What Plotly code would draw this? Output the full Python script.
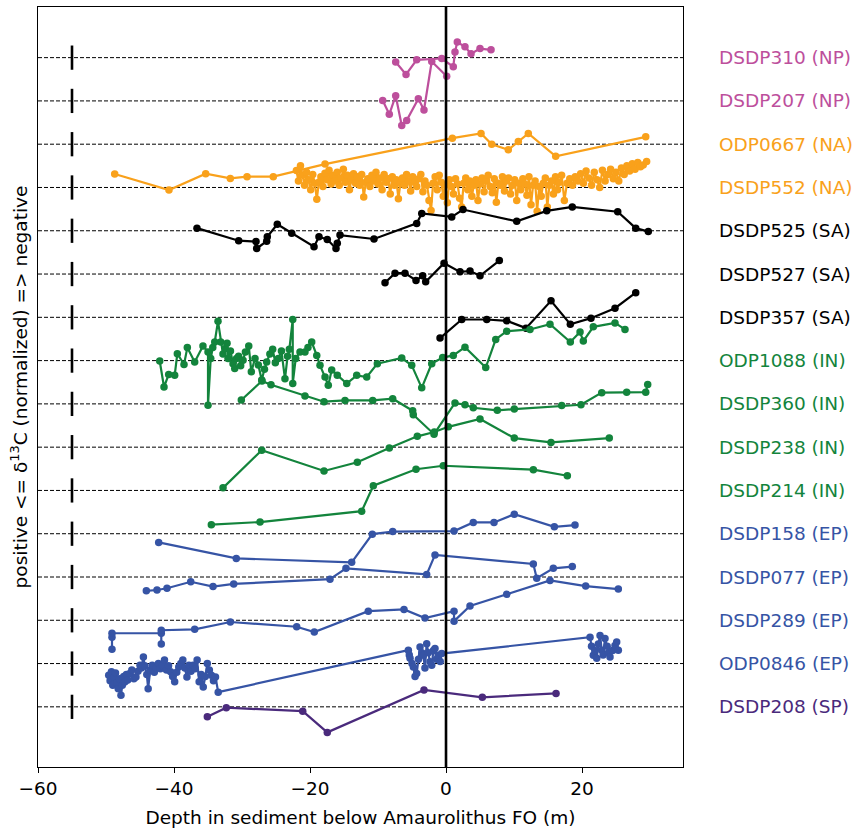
import plotly.graph_objects as go

# ---------------- data ----------------
names = ["DSDP208 (SP)", "ODP0846 (EP)", "DSDP289 (EP)", "DSDP077 (EP)", "DSDP158 (EP)",
         "DSDP214 (IN)", "DSDP238 (IN)", "DSDP360 (IN)", "ODP1088 (IN)", "DSDP357 (SA)",
         "DSDP527 (SA)", "DSDP525 (SA)", "DSDP552 (NA)", "ODP0667 (NA)", "DSDP207 (NP)",
         "DSDP310 (NP)"]

x310 = [-7.4, -5.88, -4.31, -0.63, 1.07, 1.32, 1.66, 2.79, 3.68, 5.0, 6.62]
y310 = [-0.10, -0.39, -0.05, -0.02, -0.21, 0.13, 0.36, 0.25, 0.09, 0.21, 0.18]

x207 = [-9.31, -8.34, -7.4, -6.51, -5.78, -4.07, -3.24, -2.1, 0.1]
y207 = [0.01, -0.31, 0.12, -0.57, -0.45, 0.05, -0.21, 0.91, 0.57]

x667 = [-48.72, -40.74, -35.34, -31.72, -29.26, -25.4, -17.79, 0.93, 5.15, 6.72, 9.16,
        10.63, 12.1, 16.13, 29.37]
y667 = [-0.69, -1.06, -0.68, -0.79, -0.75, -0.75, -0.46, 0.14, 0.25, 0.0, -0.13,
        0.06, 0.25, -0.28, 0.17]

x552 = [-22.0, -21.7, -21.4, -21.1, -20.8, -20.5, -20.2, -19.9, -19.6, -19.3,
        -19.0, -18.7, -18.4, -18.1, -17.8, -17.5, -17.2, -16.9, -16.6, -16.3,
        -16.0, -15.7, -15.4, -15.1, -14.8, -14.5, -14.2, -13.9, -13.6, -13.3,
        -13.0, -12.7, -12.4, -12.1, -11.8, -11.5, -11.2, -10.9, -10.6, -10.3,
        -10.0, -9.7, -9.4, -9.1, -8.8, -8.5, -8.2, -7.9, -7.6, -7.3,
        -7.0, -6.7, -6.4, -6.1, -5.8, -5.5, -5.2, -4.9, -4.6, -4.3,
        -4.0, -3.7, -3.4, -3.1, -2.8, -2.5, -2.2, -1.9, -1.6, -1.3,
        -1.0, -0.7, -0.4, -0.1, 0.2, 0.5, 0.8, 1.1, 1.4, 1.7,
        2.0, 2.3, 2.6, 2.9, 3.2, 3.5, 3.8, 4.1, 4.4, 4.7,
        5.0, 5.3, 5.6, 5.9, 6.2, 6.5, 6.8, 7.1, 7.4, 7.7,
        8.0, 8.3, 8.6, 8.9, 9.2, 9.5, 9.8, 10.1, 10.4, 10.7,
        11.0, 11.3, 11.6, 11.9, 12.2, 12.5, 12.8, 13.1, 13.4, 13.7,
        14.0, 14.3, 14.6, 14.9, 15.2, 15.5, 15.8, 16.1, 16.4, 16.7,
        17.0, 17.4, 17.8, 18.2, 18.6, 19.0, 19.4, 19.8, 20.2, 20.6,
        21.0, 21.4, 21.8, 22.2, 22.6, 23.0, 23.4, 23.8, 24.2, 24.6,
        25.0, 25.4, 25.8, 26.2, 26.6, 27.0, 27.4, 27.8, 28.2, 28.6,
        29.0, 29.5]
y552 = [0.39, 0.15, 0.50, 0.28, 0.05, 0.35, 0.18, -0.05, 0.30, 0.10,
        -0.27, 0.12, 0.25, 0.02, 0.33, 0.18, 0.40, 0.08, 0.28, 0.15,
        0.35, 0.05, 0.22, 0.42, 0.12, 0.28, -0.05, 0.18, 0.32, 0.10,
        0.25, 0.05, 0.30, -0.22, 0.12, 0.20, 0.02, 0.28, 0.15, 0.35,
        0.08, 0.22, -0.05, 0.30, 0.12, 0.20, -0.15, 0.25, 0.05, 0.18,
        -0.26, 0.10, 0.22, 0.05, 0.30, 0.15, -0.08, 0.25, 0.12, 0.02,
        0.20, 0.30, -0.10, 0.15, 0.05, -0.30, -0.53, 0.10, 0.25, -0.05,
        0.28, 0.12, -0.20, 0.05, -0.35, 0.18, 0.02, -0.15, 0.20, 0.08,
        -0.25, -0.45, 0.10, 0.22, -0.05, 0.15, -0.20, 0.05, 0.18, -0.30,
        0.08, 0.22, -0.10, 0.15, 0.28, 0.02, -0.12, 0.20, -0.34, 0.10,
        0.05, 0.25, -0.08, 0.15, 0.22, -0.15, 0.05, 0.18, -0.30, 0.10,
        -0.05, 0.20, 0.08, -0.18, 0.25, -0.40, 0.05, 0.15, -0.55, 0.02,
        -0.20, 0.10, 0.22, -0.45, 0.05, 0.15, -0.15, 0.25, -0.05, 0.12,
        0.28, -0.30, 0.10, 0.20, 0.05, 0.25, 0.15, 0.32, 0.10, 0.38,
        0.22, 0.05, 0.35, 0.18, 0.00, 0.40, 0.15, 0.30, 0.42, 0.20,
        0.35, 0.15, 0.45, 0.30, 0.50, 0.38, 0.55, 0.42, 0.58, 0.48,
        0.52, 0.60]

x525 = [-36.62, -30.49, -27.94, -27.84, -26.37, -26.28, -24.81, -22.69, -19.41, -18.68,
        -17.46, -16.18, -15.99, -15.59, -10.59, -4.31, -3.57, 0.84, 2.5, 10.4,
        14.81, 18.57, 25.25, 27.9, 29.75]
y525 = [0.06, -0.23, -0.25, -0.41, -0.24, -0.14, 0.15, -0.06, -0.37, -0.14,
        -0.2, -0.41, -0.29, -0.1, -0.19, 0.17, 0.4, 0.32, 0.49, 0.22,
        0.46, 0.55, 0.44, 0.06, -0.02]

x527 = [-8.97, -7.5, -6.03, -4.41, -3.43, -2.99, -0.29, 2.06, 3.53, 5.0, 7.84]
y527 = [-0.2, 0.02, 0.02, -0.15, -0.04, -0.18, 0.25, 0.05, 0.07, -0.04, 0.31]

x357 = [-0.88, 2.31, 5.99, 8.93, 11.76, 15.44, 18.28, 21.32, 24.85, 27.9]
y357 = [-0.48, -0.05, -0.05, -0.08, -0.25, 0.38, -0.16, -0.02, 0.21, 0.57]

x1088 = [-42.1, -41.47, -40.78, -39.9, -39.51, -38.53, -38.04, -36.96, -35.74, -35.0,
         -35.0, -34.6, -34.3, -34.01, -33.53, -33.13, -32.8, -32.46, -32.2, -32.06,
         -31.7, -31.32, -31.07, -30.8, -30.5, -30.2, -29.85, -29.5, -29.01, -28.63,
         -28.09, -27.6, -27.1, -26.7, -26.37, -25.9, -25.49, -25.1, -24.66, -24.2,
         -23.68, -23.3, -23.04, -22.54, -22.54, -22.1, -21.47, -20.74, -20.3, -19.75,
         -19.01, -18.53, -17.79, -17.31, -16.81, -15.99, -14.6, -13.13, -11.66, -10.1,
         -6.51, -5.04, -3.57, -2.1, -0.49, 1.07, 2.79, 5.84, 7.31, 8.93,
         12.35, 15.29, 18.28, 19.71, 20.19, 21.66, 24.85, 26.32]
y1088 = [-0.01, -0.61, -0.32, -0.34, 0.16, -0.09, 0.30, -0.03, 0.34, 0.20,
         -1.03, 0.05, 0.30, 0.43, 0.91, 0.43, 0.15, 0.28, 0.40, 0.05,
         0.22, -0.07, -0.18, 0.05, 0.10, -0.12, 0.01, 0.20, 0.34, -0.26,
         0.05, -0.10, -0.45, -0.20, -0.03, 0.15, 0.26, -0.05, 0.05, 0.22,
         -0.42, 0.10, 0.26, 0.95, -0.53, 0.05, 0.20, 0.20, 0.30, 0.43,
         0.12, -0.11, -0.38, -0.57, -0.22, -0.34, -0.53, -0.34, -0.38, -0.07,
         0.06, -0.11, -0.63, -0.07, 0.07, 0.12, 0.31, -0.16, 0.49, 0.68,
         0.72, 0.84, 0.43, 0.66, 0.45, 0.78, 0.87, 0.72]

x360 = [-30.1, -27.06, -25.74, -20.74, -17.94, -14.85, -10.78, -7.84, -4.9, -4.81,
        -1.76, 1.32, 2.79, 4.01, 7.54, 10.04, 17.01, 19.85, 22.9, 26.57,
        29.37, 29.66]
y360 = [0.09, 0.53, 0.44, 0.18, 0.05, 0.08, 0.08, 0.12, -0.16, -0.25,
        -0.70, 0.02, -0.02, -0.09, -0.15, -0.12, -0.04, -0.02, 0.26, 0.27,
        0.27, 0.45]

x238 = [-32.79, -27.1, -17.94, -13.04, -8.34, -4.22, -1.72, 0.34, 5.0, 10.04, 15.44, 24.01]
y238 = [-0.94, -0.07, -0.55, -0.35, -0.02, 0.25, 0.35, 0.47, 0.65, 0.21, 0.11, 0.21]

x214 = [-34.51, -27.35, -12.4, -10.69, -4.41, -0.4, 12.84, 17.84]
y214 = [-0.79, -0.73, -0.48, 0.11, 0.49, 0.57, 0.48, 0.34]

x158 = [-42.25, -30.84, -13.87, -10.84, -7.84, 1.18, 4.01, 7.06, 10.04, 15.93, 18.97]
y158 = [-0.2, -0.57, -0.66, -0.01, 0.05, 0.06, 0.26, 0.26, 0.45, 0.16, 0.2]

x077 = [-44.07, -42.5, -41.03, -37.54, -34.26, -31.22, -17.06, -14.71, -2.84, -1.62,
        12.84, 13.34, 15.78, 18.57]
y077 = [-0.32, -0.3, -0.26, -0.11, -0.22, -0.16, -0.05, 0.2, 0.06, 0.51,
        0.3, -0.03, 0.2, 0.24]

x289 = [-49.12, -49.12, -49.12, -41.87, -41.87, -41.87, -36.96, -31.72, -21.96, -19.37,
        -11.43, -6.18, -3.09, 1.18, 1.18, 3.53, 8.93, 15.29, 20.54, 25.34]
y289 = [-0.67, -0.39, -0.30, -0.30, -0.55, -0.23, -0.21, -0.04, -0.15, -0.27,
        0.21, 0.25, 0.05, 0.21, -0.02, 0.33, 0.60, 0.92, 0.79, 0.72]

x846 = [-49.6, -49.4, -49.2, -49.0, -48.8, -48.6, -48.4, -48.2, -48.0, -47.8,
        -47.6, -47.4, -47.2, -47.0, -46.8, -46.5, -46.2, -45.9, -45.6, -45.3,
        -45.0, -44.8, -44.5, -44.3, -44.0, -43.8, -43.5, -43.2, -42.9, -42.6,
        -42.3, -42.0, -41.7, -41.4, -41.1, -40.8, -40.5, -40.2, -39.9, -39.6,
        -39.3, -39.0, -38.7, -38.4, -38.1, -37.8, -37.5, -37.2, -36.9, -36.6,
        -36.3, -36.0, -35.7, -35.4, -35.1, -34.8, -34.5, -34.2, -33.9, -33.5,
        -5.54, -5.4, -5.29, -5.0, -4.8, -4.55, -4.31, -4.05, -3.82, -3.55,
        -3.34, -3.1, -2.84, -2.6, -2.35, -2.1, -1.85, -1.62, -1.4, -1.13,
        -0.85, -0.63,
        21.18, 21.4, 21.66, 21.9, 22.16, 22.4, 22.65, 22.9, 23.1, 23.38,
        23.7, 23.9, 24.12, 24.5, 24.85, 25.1, 25.34]
y846 = [-0.27, -0.40, -0.19, -0.50, -0.31, -0.22, -0.45, -0.58, -0.35, -0.73,
        -0.50, -0.30, -0.42, -0.25, -0.38, -0.23, -0.15, -0.35, -0.31, -0.18,
        -0.04, -0.10, 0.15, -0.05, -0.25, -0.58, -0.15, -0.04, -0.20, -0.10,
        0.00, -0.12, -0.05, 0.08, -0.15, -0.05, -0.19, -0.30, -0.42, -0.20,
        -0.08, 0.00, 0.08, -0.10, -0.31, -0.04, -0.18, -0.04, -0.12, 0.08,
        -0.42, -0.25, -0.54, -0.30, 0.00, -0.15, -0.27, -0.40, -0.31, -0.66,
        0.31, 0.20, 0.12, 0.00, -0.08, -0.30, -0.23, 0.10, 0.38, 0.25,
        0.19, -0.10, 0.46, 0.25, 0.04, -0.04, 0.30, 0.35, 0.10, 0.19,
        0.05, 0.23,
        0.61, 0.40, 0.19, 0.30, 0.12, 0.45, 0.65, 0.31, 0.20, 0.58,
        0.40, 0.25, 0.15, 0.30, 0.42, 0.50, 0.31]

x208 = [-35.1, -32.31, -21.07, -17.46, -3.24, 5.34, 16.18]
y208 = [-0.23, -0.02, -0.1, -0.59, 0.39, 0.22, 0.31]

series_x = [x208, x846, x289, x077, x158, x214, x238, x360, x1088, x357,
            x527, x525, x552, x667, x207, x310]
series_y = [y208, y846, y289, y077, y158, y214, y238, y360, y1088, y357,
            y527, y525, y552, y667, y207, y310]

C_MAG = "#bd4f9c"
C_ORA = "#f9a11b"
C_BLK = "#000000"
C_GRN = "#13843c"
C_BLU = "#3654a5"
C_PUR = "#4a2a7c"
colors = [C_PUR, C_BLU, C_BLU, C_BLU, C_BLU, C_GRN, C_GRN, C_GRN, C_GRN, C_BLK,
          C_BLK, C_BLK, C_ORA, C_ORA, C_MAG, C_MAG]

xtick_vals = [-60, -40, -20, 0, 20]
SCALE_X = -55
FONT = "DejaVu Sans"
FS = 18.5

fig = go.Figure()

# dashed baselines and scale ticks
for i in range(len(names)):
    fig.add_shape(type="line", xref="paper", yref="y", x0=0, x1=1, y0=i, y1=i,
                  line=dict(color="black", width=1, dash="4px,2px"), layer="below")
    fig.add_shape(type="line", xref="x", yref="y", x0=SCALE_X, x1=SCALE_X,
                  y0=i - 0.28, y1=i + 0.28, line=dict(color="black", width=2.6))

# series (plotted top to bottom order)
order = list(range(len(names)))[::-1]
for i in order:
    fig.add_trace(go.Scatter(
        x=series_x[i], y=[i + v for v in series_y[i]],
        mode="lines+markers", name=names[i], showlegend=False,
        line=dict(color=colors[i], width=2.2),
        marker=dict(color=colors[i], size=7.5),
    ))
    fig.add_annotation(xref="paper", yref="y", x=1.0527, y=i, text=names[i],
                       showarrow=False, xanchor="left", yanchor="middle",
                       font=dict(family=FONT, size=FS, color=colors[i]))

# zero line
fig.add_shape(type="line", xref="x", yref="paper", x0=0, x1=0, y0=0, y1=1,
              line=dict(color="black", width=2.6))

fig.update_layout(
    width=853, height=828,
    margin=dict(l=38, r=170, t=7, b=61, autoexpand=False),
    plot_bgcolor="white", paper_bgcolor="white",
    font=dict(family=FONT, size=FS, color="black"),
    xaxis=dict(range=[-60, 34.85], tickvals=xtick_vals, ticks="outside", ticklen=5,
               tickwidth=1, tickcolor="black", showline=True, mirror=True,
               linecolor="black", linewidth=1, showgrid=False, zeroline=False,
               automargin=False,
               title=dict(text="Depth in sediment below Amaurolithus FO (m)",
                          standoff=13, font=dict(size=FS))),
    yaxis=dict(range=[-1.39, 16.17], showticklabels=False, ticks="",
               showline=True, mirror=True, linecolor="black", linewidth=1,
               showgrid=False, zeroline=False, automargin=False,
               title=dict(text="positive <= δ<sup>13</sup>C (normalized) => negative",
                          standoff=4, font=dict(size=FS))),
)

fig.write_html("out.html")
